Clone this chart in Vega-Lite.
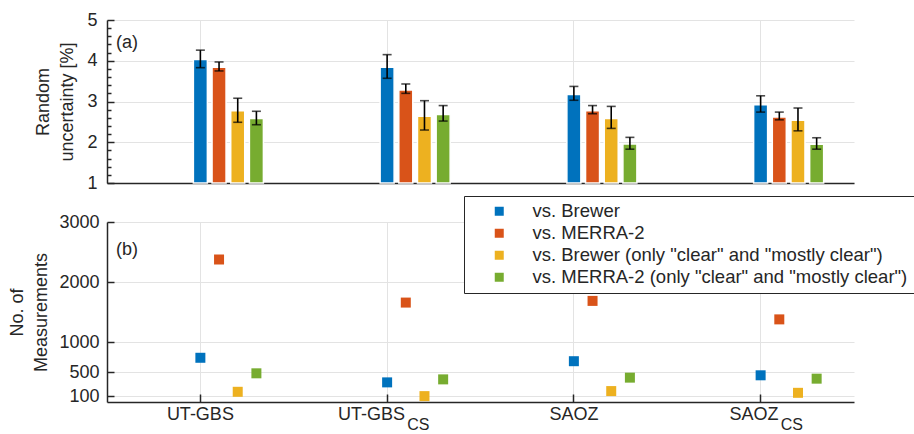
{
  "$schema": "https://vega.github.io/schema/vega-lite/v6.json",
  "padding": {"left": 8, "top": 11, "right": 0, "bottom": 0},
  "background": "white",
  "config": {
    "font": "Liberation Sans",
    "view": {"stroke": null},
    "axis": {
      "labelFont": "Liberation Sans", "labelFontSize": 18, "labelColor": "#262626",
      "titleFont": "Liberation Sans", "titleFontSize": 18, "titleFontWeight": "normal", "titleColor": "#262626",
      "domainColor": "#262626", "domainWidth": 1.5, "tickColor": "#262626", "tickWidth": 1.5,
      "gridColor": "#e3e3e3", "gridWidth": 1, "labelOverlap": false
    },
    "title": {"font": "Liberation Sans", "fontSize": 18, "fontWeight": "normal", "color": "#262626", "anchor": "start", "frame": "group", "orient": "top", "offset": 0, "baseline": "top", "dx": 9}
  },
  "datasets": {
    "main": [
      {"station": "UT-GBS", "series": "vs. Brewer", "unc": 4.03, "lo": 3.83, "hi": 4.26, "n": 737},
      {"station": "UT-GBS", "series": "vs. MERRA-2", "unc": 3.84, "lo": 3.75, "hi": 3.97, "n": 2375},
      {"station": "UT-GBS", "series": "vs. Brewer (only \"clear\" and \"mostly clear\")", "unc": 2.77, "lo": 2.49, "hi": 3.08, "n": 170},
      {"station": "UT-GBS", "series": "vs. MERRA-2 (only \"clear\" and \"mostly clear\")", "unc": 2.58, "lo": 2.43, "hi": 2.76, "n": 478},
      {"station": "UT-GBS_CS", "series": "vs. Brewer", "unc": 3.84, "lo": 3.57, "hi": 4.15, "n": 327},
      {"station": "UT-GBS_CS", "series": "vs. MERRA-2", "unc": 3.28, "lo": 3.2, "hi": 3.43, "n": 1657},
      {"station": "UT-GBS_CS", "series": "vs. Brewer (only \"clear\" and \"mostly clear\")", "unc": 2.64, "lo": 2.3, "hi": 3.02, "n": 98},
      {"station": "UT-GBS_CS", "series": "vs. MERRA-2 (only \"clear\" and \"mostly clear\")", "unc": 2.68, "lo": 2.52, "hi": 2.9, "n": 377},
      {"station": "SAOZ", "series": "vs. Brewer", "unc": 3.17, "lo": 3.03, "hi": 3.37, "n": 680},
      {"station": "SAOZ", "series": "vs. MERRA-2", "unc": 2.77, "lo": 2.7, "hi": 2.9, "n": 1685},
      {"station": "SAOZ", "series": "vs. Brewer (only \"clear\" and \"mostly clear\")", "unc": 2.58, "lo": 2.34, "hi": 2.88, "n": 182},
      {"station": "SAOZ", "series": "vs. MERRA-2 (only \"clear\" and \"mostly clear\")", "unc": 1.96, "lo": 1.83, "hi": 2.12, "n": 406},
      {"station": "SAOZ_CS", "series": "vs. Brewer", "unc": 2.92, "lo": 2.74, "hi": 3.14, "n": 445},
      {"station": "SAOZ_CS", "series": "vs. MERRA-2", "unc": 2.62, "lo": 2.55, "hi": 2.74, "n": 1377},
      {"station": "SAOZ_CS", "series": "vs. Brewer (only \"clear\" and \"mostly clear\")", "unc": 2.54, "lo": 2.28, "hi": 2.84, "n": 153},
      {"station": "SAOZ_CS", "series": "vs. MERRA-2 (only \"clear\" and \"mostly clear\")", "unc": 1.95, "lo": 1.83, "hi": 2.11, "n": 389}
    ],
    "subs": [
      {"station": "UT-GBS_CS", "sub": "CS"},
      {"station": "SAOZ_CS", "sub": "CS"}
    ]
  },
  "bounds": "flush",
  "spacing": 39,
  "vconcat": [
    {
      "width": 747,
      "height": 163,
      "title": {"text": "(a)", "dy": 45},
      "data": {"name": "main"},
      "encoding": {
        "x": {"field": "station", "type": "nominal",
              "scale": {"domain": ["UT-GBS", "UT-GBS_CS", "SAOZ", "SAOZ_CS"], "paddingInner": 0.3, "paddingOuter": 0.15},
              "axis": {"title": null, "labels": false, "ticks": false, "grid": true, "domain": true, "bandPosition": 0.5}},
        "xOffset": {"field": "series", "type": "nominal",
                    "scale": {"domain": ["pad1", "pad2", "pad3", "vs. Brewer", "vs. MERRA-2", "vs. Brewer (only \"clear\" and \"mostly clear\")", "vs. MERRA-2 (only \"clear\" and \"mostly clear\")"], "paddingInner": 0.25, "paddingOuter": 0.125}}
      },
      "layer": [
        {
          "mark": {"type": "bar", "stroke": "white", "strokeWidth": 1.5},
          "encoding": {
            "y": {"field": "unc", "type": "quantitative",
                  "scale": {"domain": [1, 5], "nice": false, "zero": false},
                  "axis": {"orient": "left", "values": [1, 2, 3, 4, 5], "title": ["Random", "uncertainty [%]"], "tickSize": -7, "labelPadding": 17, "grid": true, "titlePadding": 10, "titleLineHeight": 24}},
            "y2": {"datum": 1},
            "color": {"field": "series", "type": "nominal",
                      "scale": {"domain": ["vs. Brewer", "vs. MERRA-2", "vs. Brewer (only \"clear\" and \"mostly clear\")", "vs. MERRA-2 (only \"clear\" and \"mostly clear\")"], "range": ["#0072BD", "#D95319", "#EDB120", "#77AC30"]},
                      "legend": {"title": null, "orient": "none", "legendX": 357, "legendY": 176, "symbolType": "square", "symbolSize": 81, "labelFont": "Liberation Sans", "labelFontSize": 18.5, "labelColor": "#262626", "labelLimit": 600, "padding": 6, "rowPadding": 3, "symbolOffset": 20, "labelOffset": 24, "strokeColor": "#262626", "fillColor": "white", "symbolStrokeWidth": 0}}
          }
        },
        {
          "mark": {"type": "rule", "color": "black", "strokeWidth": 1.6},
          "encoding": {
            "y": {"field": "lo", "type": "quantitative",
                  "axis": {"orient": "left", "values": [1.2, 1.4, 1.6, 1.8, 2.2, 2.4, 2.6, 2.8, 3.2, 3.4, 3.6, 3.8, 4.2, 4.4, 4.6, 4.8], "labels": false, "grid": false, "domain": false, "ticks": true, "tickSize": -4, "title": null}},
            "y2": {"field": "hi"}
          }
        },
        {
          "mark": {"type": "tick", "orient": "horizontal", "color": "black", "size": 9, "thickness": 1.6},
          "encoding": {"y": {"field": "lo", "type": "quantitative", "axis": null}}
        },
        {
          "mark": {"type": "tick", "orient": "horizontal", "color": "black", "size": 9, "thickness": 1.6},
          "encoding": {"y": {"field": "hi", "type": "quantitative", "axis": null}}
        }
      ],
      "resolve": {"axis": {"y": "independent"}}
    },
    {
      "width": 747,
      "height": 180,
      "title": {"text": "(b)", "dy": 50},
      "layer": [
        {
          "data": {"name": "main"},
          "mark": {"type": "point", "shape": "square", "filled": true, "size": 100, "opacity": 1},
          "encoding": {
            "x": {"field": "station", "type": "nominal",
                  "scale": {"domain": ["UT-GBS", "UT-GBS_CS", "SAOZ", "SAOZ_CS"], "paddingInner": 0.3, "paddingOuter": 0.15},
                  "axis": {"title": null, "grid": true, "ticks": true, "tickSize": -8, "labelPadding": 11, "labelAngle": 0, "labelBaseline": "top", "bandPosition": 0.5,
                           "labelExpr": "replace(datum.value, '_CS', '')",
                           "labelAlign": {"condition": {"test": "indexof(datum.value, '_CS') >= 0", "value": "right"}, "value": "center"},
                           "labelOffset": {"condition": {"test": "indexof(datum.value, '_CS') >= 0", "value": 18}, "value": 0}}},
            "xOffset": {"field": "series", "type": "nominal",
                        "scale": {"domain": ["pad1", "pad2", "pad3", "vs. Brewer", "vs. MERRA-2", "vs. Brewer (only \"clear\" and \"mostly clear\")", "vs. MERRA-2 (only \"clear\" and \"mostly clear\")"], "paddingInner": 0.25, "paddingOuter": 0.125}},
            "y": {"field": "n", "type": "quantitative",
                  "scale": {"domain": [0, 3000], "nice": false, "zero": false},
                  "axis": {"values": [100, 500, 1000, 2000, 3000], "format": "d", "title": ["No. of", "Measurements"], "tickSize": -7, "labelPadding": 15, "grid": true, "titlePadding": 8, "titleLineHeight": 24}},
            "color": {"field": "series", "type": "nominal",
                      "scale": {"domain": ["vs. Brewer", "vs. MERRA-2", "vs. Brewer (only \"clear\" and \"mostly clear\")", "vs. MERRA-2 (only \"clear\" and \"mostly clear\")"], "range": ["#0072BD", "#D95319", "#EDB120", "#77AC30"]},
                      "legend": {"title": null, "orient": "none", "legendX": 357, "legendY": 176, "symbolType": "square", "symbolSize": 81, "labelFont": "Liberation Sans", "labelFontSize": 18.5, "labelColor": "#262626", "labelLimit": 600, "padding": 6, "rowPadding": 3, "symbolOffset": 20, "labelOffset": 24, "strokeColor": "#262626", "fillColor": "white", "symbolStrokeWidth": 0}}
          }
        },
        {
          "data": {"name": "subs"},
          "mark": {"type": "text", "align": "left", "baseline": "alphabetic", "dx": 20, "dy": 28, "fontSize": 16, "color": "#262626", "font": "Liberation Sans"},
          "encoding": {
            "x": {"field": "station", "type": "nominal"},
            "y": {"datum": 0},
            "text": {"field": "sub"}
          }
        }
      ]
    }
  ]
}
